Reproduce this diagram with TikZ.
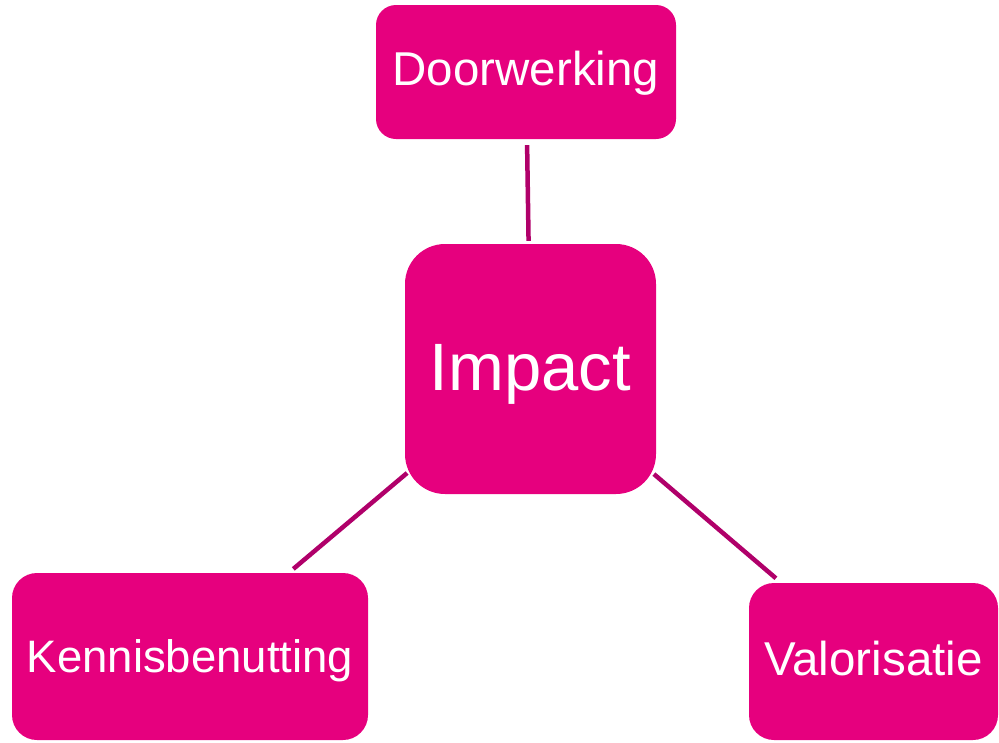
\documentclass[tikz,border=0pt]{standalone}
\usepackage{fontspec}
\setmainfont{Liberation Sans}
\usepackage{tikz}

\definecolor{pinkfill}{HTML}{E6007E}
\definecolor{pinkline}{HTML}{B0006A}

\begin{document}
\begin{tikzpicture}[x=1pt,y=-1pt,
    box/.style={fill=pinkfill, text=white, inner sep=0pt, align=center, text depth=8pt,
                font=\fontsize{46.5}{52}\selectfont},
    link/.style={pinkline, line width=4.5pt}]
  \useasboundingbox (0,0) rectangle (999,742);
  % boxes
  \node[box, minimum width=300pt, minimum height=134pt, rounded corners=20pt,
        text height=34pt, font=\fontsize{47.5}{52}\selectfont] (door) at (526,72) {Doorwerking};
  \node[box, minimum width=251pt, minimum height=250pt, rounded corners=40pt,
        text height=51.4pt, font=\fontsize{67}{74}\selectfont] (imp) at (530.5,369) {Impact};
  \node[box, minimum width=356pt, minimum height=167pt, rounded corners=25pt,
        text height=39.6pt, font=\fontsize{45.5}{52}\selectfont] (kennis) at (190,656.5) {Kennisbenutting};
  \node[box, minimum width=249pt, minimum height=157pt, rounded corners=25pt,
        text height=35pt, font=\fontsize{47.5}{52}\selectfont] (valor) at (873.5,661.5) {Valorisatie};
  % links
  \draw[link, shorten <=6pt, shorten >=3pt] (door) -- (imp);
  \draw[link, shorten <=-3pt, shorten >=6pt] (imp) -- (kennis);
  \draw[link, shorten <=-3pt, shorten >=7pt] (imp) -- (valor);
\end{tikzpicture}
\end{document}
